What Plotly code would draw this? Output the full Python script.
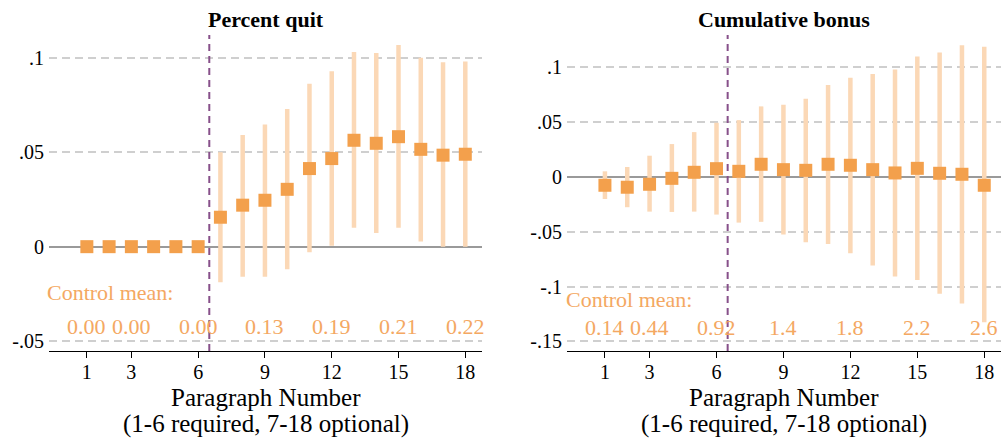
import plotly.graph_objects as go

# Paragraph positions
paragraphs = list(range(1, 19))

# Panel 1: percent quit (point estimate and 95% CI bounds)
quit_est = [0, 0, 0, 0, 0, 0,
            0.0156, 0.0220, 0.0246, 0.0304, 0.0414, 0.0467,
            0.0564, 0.0548, 0.0583, 0.0516, 0.0485, 0.0490]
quit_hi = [0, 0, 0, 0, 0, 0,
           0.0500, 0.0592, 0.0647, 0.0730, 0.0863, 0.0930,
           0.1032, 0.1027, 0.1069, 0.1002, 0.0978, 0.0981]
quit_lo = [0, 0, 0, 0, 0, 0,
           -0.0189, -0.0159, -0.0159, -0.0120, -0.0030, 0.0005,
           0.0100, 0.0072, 0.0100, 0.0027, 0.0000, 0.0000]

# Panel 2: cumulative bonus
bonus_est = [-0.0078, -0.0096, -0.0069, -0.0015, 0.0040, 0.0073,
             0.0049, 0.0113, 0.0064, 0.0058, 0.0113, 0.0104,
             0.0064, 0.0034, 0.0076, 0.0031, 0.0022, -0.0078]
bonus_hi = [0.0049, 0.0088, 0.0191, 0.0297, 0.0406, 0.0491,
            0.0515, 0.0640, 0.0655, 0.0709, 0.0834, 0.0900,
            0.0936, 0.0976, 0.1095, 0.1131, 0.1197, 0.1182]
bonus_lo = [-0.0203, -0.0278, -0.0318, -0.0321, -0.0318, -0.0345,
            -0.0418, -0.0411, -0.0527, -0.0597, -0.0613, -0.0696,
            -0.0809, -0.0909, -0.0940, -0.1066, -0.1154, -0.1325]

# Control-group means printed under each panel
mean_pos = [1, 3, 6, 9, 12, 15, 18]
quit_means = ["0.00", "0.00", "0.00", "0.13", "0.19", "0.21", "0.22"]
bonus_means = ["0.14", "0.44", "0.92", "1.4", "1.8", "2.2", "2.6"]

x_ticks = [1, 3, 6, 9, 12, 15, 18]
quit_yticks = [-0.05, 0, 0.05, 0.1]
quit_ytext = ["-.05", "0", ".05", ".1"]
bonus_yticks = [-0.15, -0.1, -0.05, 0, 0.05, 0.1]
bonus_ytext = ["-.15", "-.1", "-.05", "0", ".05", ".1"]

FONT = "Liberation Serif, Times New Roman, serif"
MARKER = "#F3A04C"
CI = "#FBD8B6"
LABEL = "#F4A862"
VLINE = "#87508A"

W, H = 1003, 440

fig = go.Figure()


def add_panel(est, lo, hi, xa, ya):
    plus = [h - e for h, e in zip(hi, est)]
    minus = [e - l for e, l in zip(est, lo)]
    fig.add_trace(go.Scatter(
        x=paragraphs, y=est, mode="markers",
        marker=dict(symbol="square", size=13, color=MARKER),
        error_y=dict(type="data", symmetric=False, array=plus, arrayminus=minus,
                     color=CI, thickness=4.5, width=0),
        xaxis=xa, yaxis=ya, showlegend=False, cliponaxis=False,
    ))


add_panel(quit_est, quit_lo, quit_hi, "x", "y")
add_panel(bonus_est, bonus_lo, bonus_hi, "x2", "y2")

xcommon = dict(
    range=[-0.7, 18.75], tickmode="array", tickvals=x_ticks,
    showline=True, linecolor="black", linewidth=1,
    ticks="outside", ticklen=6, tickcolor="black", tickwidth=1,
    showgrid=False, zeroline=False, ticklabelstandoff=-3,
    tickfont=dict(family=FONT, size=20, color="black"),
)
ycommon = dict(
    showline=False, ticks="", showgrid=True, gridcolor="#CFCFCF",
    gridwidth=1.5, griddash="8px,5px",
    zeroline=True, zerolinecolor="#9A9A9A", zerolinewidth=2,
    tickmode="array", tickfont=dict(family=FONT, size=20, color="black"),
    ticklabelstandoff=4,
)

fig.update_layout(
    width=W, height=H,
    margin=dict(l=0, r=0, t=0, b=0),
    paper_bgcolor="white", plot_bgcolor="white",
    font=dict(family=FONT, color="black"),
    xaxis=dict(domain=[49 / W, 482 / W], anchor="y", **xcommon),
    xaxis2=dict(domain=[567 / W, 1001 / W], anchor="y2", **xcommon),
    yaxis=dict(domain=[1 - 351 / H, 1 - 35 / H], anchor="x",
               range=[-0.0553, 0.1122], tickvals=quit_yticks,
               ticktext=quit_ytext, **ycommon),
    yaxis2=dict(domain=[1 - 351 / H, 1 - 35 / H], anchor="x2",
                range=[-0.1587, 0.129], tickvals=bonus_yticks,
                ticktext=bonus_ytext, **ycommon),
)

# Boundary between required and optional paragraphs
for xr, yr in (("x", "y domain"), ("x2", "y2 domain")):
    fig.add_shape(type="line", xref=xr, yref=yr, x0=6.5, x1=6.5, y0=0, y1=1,
                  line=dict(color=VLINE, width=2, dash="7px,5px"), layer="above")

ann = []
# Panel titles
for txt, xc in (("Percent quit", 265.5), ("Cumulative bonus", 784)):
    ann.append(dict(text=f"<b>{txt}</b>", xref="paper", yref="paper",
                    x=xc / W, y=1 - 19 / H, xanchor="center", yanchor="middle",
                    showarrow=False, font=dict(family=FONT, size=22, color="black")))
# Axis titles
for xc in (265.5, 784):
    ann.append(dict(text="Paragraph Number", xref="paper", yref="paper",
                    x=xc / W, y=1 - 397 / H, xanchor="center", yanchor="middle",
                    showarrow=False, font=dict(family=FONT, size=25, color="black")))
    ann.append(dict(text="(1-6 required, 7-18 optional)", xref="paper", yref="paper",
                    x=xc / W, y=1 - 424 / H, xanchor="center", yanchor="middle",
                    showarrow=False, font=dict(family=FONT, size=25, color="black")))

# Control mean labels
for xa, ya, lab_px, lab_y, val_y, means in (
        ("x", "y", 45, -0.0245, -0.0424, quit_means),
        ("x2", "y2", 563.5, -0.112, -0.1372, bonus_means)):
    ann.append(dict(text="Control mean:", xref="paper", yref=ya, x=lab_px / W, y=lab_y,
                    xanchor="left", yanchor="middle", showarrow=False,
                    font=dict(family=FONT, size=22, color=LABEL)))
    for xv, m in zip(mean_pos, means):
        ann.append(dict(text=m, xref=xa, yref=ya, x=xv, y=val_y,
                        xanchor="center", yanchor="middle", showarrow=False,
                        font=dict(family=FONT, size=22, color=LABEL)))

fig.update_layout(annotations=ann)

fig.write_html("out.html")
